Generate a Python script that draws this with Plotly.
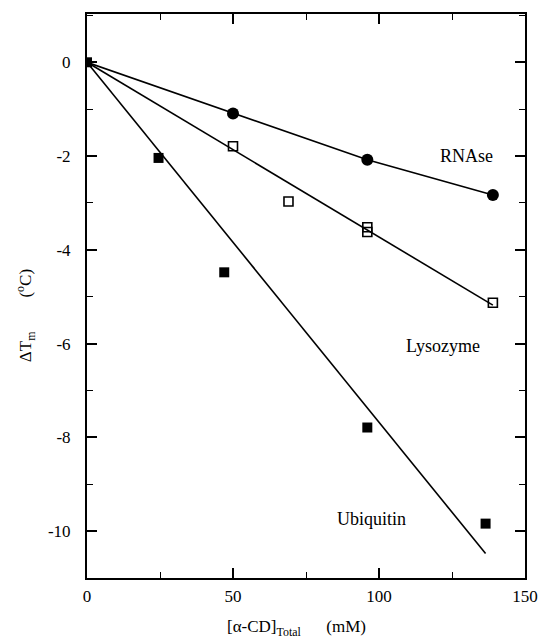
import plotly.graph_objects as go

# Data
rnase_x = [0, 50, 96, 139]
rnase_y = [0, -1.09, -2.08, -2.83]

lyso_x = [50, 69, 96, 96, 139]
lyso_y = [-1.79, -2.97, -3.52, -3.62, -5.13]
lyso_fit_x = [0, 139]
lyso_fit_y = [0, -5.18]

ubi_x = [0, 24.5, 47, 96, 136.5]
ubi_y = [0, -2.04, -4.48, -7.79, -9.84]
ubi_fit_x = [0, 136.5]
ubi_fit_y = [0, -10.48]

y_tickvals = [0, -2, -4, -6, -8, -10]
y_ticktext = ["0", "-2", "-4", "-6", "-8", "-10"]
x_tickvals = [0, 50, 100, 150]
x_ticktext = ["0", "50", "100", "150"]

labels = ["RNAse", "Lysozyme", "Ubiquitin"]
label_x = [130, 122, 97.5]
label_y = [-2.0, -6.05, -9.75]

FONT = "Liberation Serif, Times New Roman, serif"
fig = go.Figure()

# lines
fig.add_trace(go.Scatter(x=rnase_x, y=rnase_y, mode="lines",
                         line=dict(color="black", width=1.6), showlegend=False))
fig.add_trace(go.Scatter(x=lyso_fit_x, y=lyso_fit_y, mode="lines",
                         line=dict(color="black", width=1.6), showlegend=False))
fig.add_trace(go.Scatter(x=ubi_fit_x, y=ubi_fit_y, mode="lines",
                         line=dict(color="black", width=1.6), showlegend=False))

# markers
fig.add_trace(go.Scatter(x=rnase_x[1:], y=rnase_y[1:], mode="markers",
                         marker=dict(symbol="circle", size=12, color="black"),
                         showlegend=False))
fig.add_trace(go.Scatter(x=lyso_x, y=lyso_y, mode="markers",
                         marker=dict(symbol="square-open", size=9, color="black",
                                     line=dict(width=1.6)),
                         showlegend=False))
fig.add_trace(go.Scatter(x=ubi_x, y=ubi_y, mode="markers",
                         marker=dict(symbol="square", size=10, color="black"),
                         showlegend=False))

for t, xx, yy in zip(labels, label_x, label_y):
    fig.add_annotation(x=xx, y=yy, text=t, showarrow=False,
                       font=dict(family=FONT, size=18, color="black"))

axis_common = dict(
    showgrid=False, zeroline=False, showline=True, linecolor="black", linewidth=2,
    mirror="allticks", ticks="inside", ticklen=10, tickwidth=1.5, tickcolor="black",
    tickfont=dict(family=FONT, size=17, color="black"), automargin=False,
)

fig.update_xaxes(range=[0, 150], tickvals=x_tickvals, ticktext=x_ticktext,
                 minor=dict(ticks="inside", ticklen=6, tickwidth=1.2, tickcolor="black",
                            dtick=25, tick0=0),
                 ticklabelstandoff=2, **axis_common)
fig.update_yaxes(range=[-11, 1.03], tickvals=y_tickvals, ticktext=y_ticktext,
                 minor=dict(ticks="inside", ticklen=6, tickwidth=1.2, tickcolor="black",
                            dtick=1, tick0=0),
                 ticklabelstandoff=11, **axis_common)

# axis titles
fig.add_annotation(x=0.479, y=-0.066, xref="paper", yref="paper", xanchor="center", yanchor="top",
                   text="[α-CD]<sub>Total</sub>      (mM)", showarrow=False,
                   font=dict(family=FONT, size=17, color="black"))
fig.add_annotation(x=-0.1416, y=0.466, xref="paper", yref="paper", xanchor="center", yanchor="middle",
                   text="ΔT<sub>m</sub>        (<sup>o</sup>C)", textangle=-90, showarrow=False,
                   font=dict(family=FONT, size=17, color="black"))

fig.update_layout(width=538, height=640, margin=dict(l=87, r=13, t=14, b=62, autoexpand=False),
                  plot_bgcolor="white", paper_bgcolor="white")

# remove the page's default body margin so the 538x640 figure fills the window exactly
fig.write_html("out.html", config={"displayModeBar": False},
               post_script="document.body.style.margin='0';document.body.style.overflow='hidden';")
